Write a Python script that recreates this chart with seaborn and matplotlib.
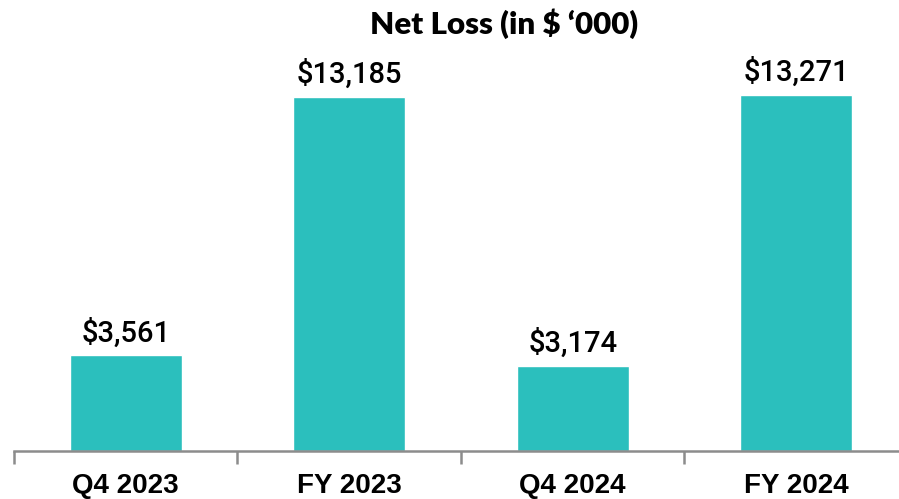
import matplotlib
matplotlib.use("Agg")
import matplotlib.pyplot as plt
import seaborn as sns
import pandas as pd

# net loss per period, in $ thousands
periods = ["Q4 2023", "FY 2023", "Q4 2024", "FY 2024"]
net_loss = [3561, 13185, 3174, 13271]
labels = ["$3,561", "$13,185", "$3,174", "$13,271"]

df = pd.DataFrame({"Period": periods, "Loss": net_loss})

sns.set_style("white")
fig = plt.figure(figsize=(8.99, 4.99), dpi=100)
ax = fig.add_axes([14 / 899, 48 / 499, 894 / 899, 411 / 499])

sns.barplot(data=df, x="Period", y="Loss", color="#2BBFBD", width=0.5, saturation=1, ax=ax)

for i, (v, t) in enumerate(zip(net_loss, labels)):
    ax.text(i, v + 280, t, ha="center", va="bottom", fontsize=21, fontweight="medium",
            family="Roboto", color="black")

ax.set_xlim(-0.5, 3.5)
ax.set_ylim(0, 15300)
ax.set_xlabel("")
ax.set_ylabel("")
ax.set_yticks([])
sns.despine(ax=ax, left=True)
ax.spines["bottom"].set_color("#8c8c8c")
ax.spines["bottom"].set_linewidth(1.8)

# category labels without ticks, separator ticks at boundaries
ax.set_xticks([0, 1, 2, 3])
ax.set_xticklabels(periods, fontsize=20, fontweight="bold", family="Liberation Sans", color="black")
ax.tick_params(axis="x", which="major", length=0, pad=16)
ax.set_xticks([-0.5, 0.5, 1.5, 2.5, 3.5], minor=True)
ax.tick_params(axis="x", which="minor", bottom=True, length=9, width=1.8, color="#8c8c8c", direction="out")

fig.text(504 / 899, 1 - 24 / 499, "Net Loss (in $ \u2018000)", ha="center", va="center",
         fontsize=22.5, fontweight="heavy", family="Lato", color="black")

fig.savefig("out.png", dpi=100)
